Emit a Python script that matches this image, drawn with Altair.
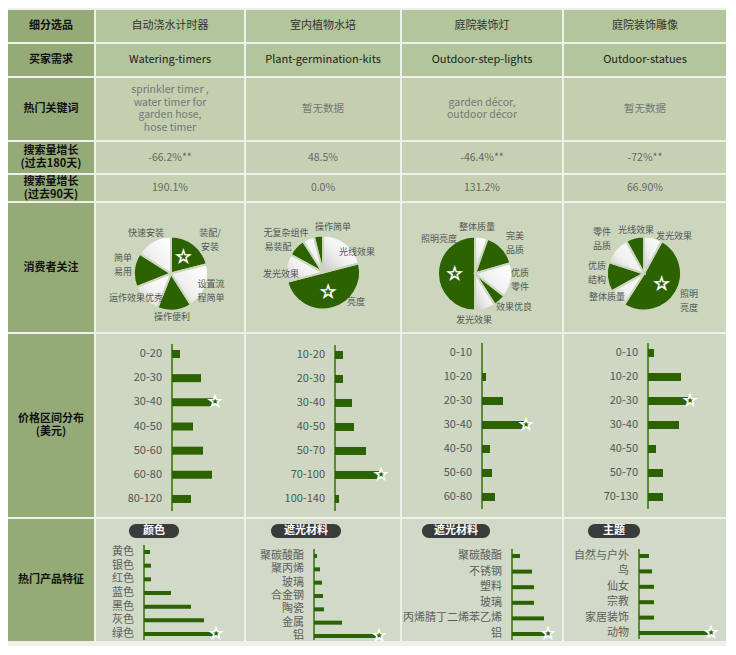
import math
import altair as alt
import pandas as pd

FONT = "Noto Sans CJK SC"
STAR_FONT = "DejaVu Sans"
GREEN = "#2c6300"
AXIS_GREEN = "#5b8c2c"
BG = "#eef0ea"
LABEL_FILL = "#94ab77"

# ---------------- data ----------------
row_labels = ["细分选品", "买家需求", "热门关键词", "搜索量增长\n(过去180天)",
              "搜索量增长\n(过去90天)", "消费者关注", "价格区间分布\n(美元)", "热门产品特征"]
products = ["自动浇水计时器", "室内植物水培", "庭院装饰灯", "庭院装饰雕像"]
demands = ["Watering-timers", "Plant-germination-kits", "Outdoor-step-lights", "Outdoor-statues"]
keywords = ["sprinkler timer ,\n water timer for\ngarden hose,\n  hose timer", "暂无数据",
            "garden décor,\n outdoor décor", "暂无数据"]
growth_180 = ["-66.2%**", "48.5%", "-46.4%**", "-72%**"]
growth_90 = ["190.1%", "0.0%", "131.2%", "66.90%"]

pie_labels = [
    ["装配/\n安装", "设置流\n程简单", "操作便利", "运作效果优秀", "简单\n易用", "快速安装"],
    ["光线效果", "亮度", "发光效果", "易装配", "无复杂组件", "操作简单"],
    ["整体质量", "完美\n品质", "优质\n零件", "效果优良", "发光效果", "照明亮度"],
    ["发光效果", "照明\n亮度", "整体质量", "优质\n结构", "零件\n品质", "光线效果"],
]
pie_shares = [
    [21, 20, 15, 13, 15, 16],
    [21, 50, 12, 8, 5, 4],
    [5.5, 15, 15, 5.5, 9, 50],
    [8, 51, 8, 13, 12, 8],
]
pie_kinds = [
    ["g", "w", "g", "w", "g", "w"],
    ["w", "g", "w", "g", "w", "g"],
    ["w", "g", "w", "g", "w", "g"],
    ["w", "g", "w", "g", "w", "g"],
]

price_bins = [
    ["0-20", "20-30", "30-40", "40-50", "50-60", "60-80", "80-120"],
    ["10-20", "20-30", "30-40", "40-50", "50-70", "70-100", "100-140"],
    ["0-10", "10-20", "20-30", "30-40", "40-50", "50-60", "60-80"],
    ["0-10", "10-20", "20-30", "30-40", "40-50", "50-70", "70-130"],
]
price_values = [
    [8, 29, 41, 21, 31, 40, 19],
    [8, 8, 17, 19, 31, 44, 4],
    [0, 4, 21, 42, 8, 10, 13],
    [6, 33, 40, 31, 8, 15, 15],
]

feature_titles = ["颜色", "遮光材料", "遮光材料", "主题"]
feature_cats = [
    ["黄色", "银色", "红色", "蓝色", "黑色", "灰色", "绿色"],
    ["聚碳酸酯", "聚丙烯", "玻璃", "合金钢", "陶瓷", "金属", "铝"],
    ["聚碳酸酯", "不锈钢", "塑料", "玻璃", "丙烯腈丁二烯苯乙烯", "铝"],
    ["自然与户外", "鸟", "仙女", "宗教", "家居装饰", "动物"],
]
feature_values = [
    [6, 7, 7, 27, 47, 60, 70],
    [3, 6, 8, 9, 10, 28, 63],
    [8, 20, 22, 22, 32, 34],
    [10, 13, 15, 15, 15, 70],
]

# ---------------- layout / style ----------------
col_widths = [86, 148, 154, 160, 162]
row_heights = [32, 32, 62, 31, 26, 129, 183, 122]
row_fills = ["#b3c59b", "#b3c59b", "#c3cfaf", "#c6d1b4", "#c6d1b4", "#cbd6bd", "#cdd7c1", "#d1dac8"]

price_axis_x = [76, 89, 80, 84]
price_y = [(20, 165), (21, 165), (19, 163), (19, 163)]
feature_axis_x = [48, 68, 110, 75]
feature_y = [(33, 115), (37, 117), (37, 115), (37, 114)]
pill_cx = [58, 60, 54, 50]
pill_w = [50, 70, 68, 52]
PIE_R = 37
PIE_LH = 14
pie_center_shift = [(1, 6), (0, 5), (-7, 6), (-1, 6)]
# label placement (pixel offset of each label block's centre from its pie centre)
pie_label_offsets = [
    [(39, -34), (40, 17), (1, 43), (-35, 24), (-48, -9), (-25, -41)],
    [(34, -21), (33, 29), (-42, 1), (-45, -26), (-37, -40), (10, -46)],
    [(2, -47), (40, -31), (45, 6), (39, 33), (-1, 46), (-36, -35)],
    [(30, -38), (45, 27), (-37, 23), (-47, -1), (-42, -35), (-8, -44)],
]


def view(fill):
    return alt.ViewBackground(fill=fill, strokeWidth=0)


def text_cell(text, w, h, fill, size=11, color="#333", weight="normal", lh=13):
    n = len(text.split("\n"))
    df = pd.DataFrame({"t": [text]})
    return alt.Chart(df).mark_text(
        font=FONT, fontSize=size, color=color, fontWeight=weight,
        lineBreak="\n", lineHeight=lh, align="center", baseline="middle"
    ).encode(
        x=alt.value(w / 2), y=alt.value(h / 2 - (n - 1) * lh / 2), text="t:N"
    ).properties(width=w, height=h, view=view(fill))


def pie_cell(labels, shares, kinds, offsets, shift, w, h, fill):
    rows = []
    cum = 0.0
    total = float(sum(shares))
    mx = max(shares)
    for lab, s, k, (dx, dy) in zip(labels, shares, kinds, offsets):
        st = cum / total * 100
        en = (cum + s) / total * 100
        n = len(lab.split("\n"))
        dy1 = dy - (n - 1) * PIE_LH / 2  # first-line anchor of the label block
        ldeg = math.degrees(math.atan2(dx, -dy1)) % 360
        rows.append({"label": lab, "start": st, "end": en, "mid": (st + en) / 2, "kind": k,
                     "lt": ldeg / 360 * 100, "lr": math.hypot(dx, dy1),
                     "sr": PIE_R * 0.55, "star": "★" if s == mx else ""})
        cum += s
    df = pd.DataFrame(rows)
    base = alt.Chart(df)
    tscale = alt.Scale(domain=[0, 100])
    rscale = alt.Scale(domain=[0, 100], range=[0, 100], nice=False, zero=True)
    cx = alt.value(w / 2 + shift[0])
    cy = alt.value(h / 2 + shift[1])

    green = base.transform_filter("datum.kind == 'g'").mark_arc(
        outerRadius=PIE_R, stroke=fill, strokeWidth=2, color=GREEN
    ).encode(theta=alt.Theta("start:Q", scale=tscale), theta2="end:Q", x=cx, y=cy)
    white = base.transform_filter("datum.kind == 'w'").mark_arc(
        outerRadius=PIE_R, stroke=fill, strokeWidth=2,
        color={"gradient": "linear", "x1": 1, "y1": 0, "x2": 0, "y2": 1,
               "stops": [{"offset": 0, "color": "#ffffff"},
                         {"offset": 0.55, "color": "#f1f1f1"},
                         {"offset": 1, "color": "#c9c9c9"}]}
    ).encode(theta=alt.Theta("start:Q", scale=tscale), theta2="end:Q", x=cx, y=cy)
    text = base.mark_text(
        font=FONT, fontSize=9, color="#555", lineBreak="\n", lineHeight=PIE_LH,
        align="center", baseline="middle"
    ).encode(theta=alt.Theta("lt:Q", scale=tscale),
             radius=alt.Radius("lr:Q", scale=rscale), text="label:N", x=cx, y=cy)
    star = base.mark_text(
        font=STAR_FONT, fontSize=22, color="white", baseline="middle"
    ).encode(theta=alt.Theta("mid:Q", scale=tscale),
             radius=alt.Radius("sr:Q", scale=rscale), text="star:N", x=cx, y=cy)
    star2 = base.mark_text(
        font=STAR_FONT, fontSize=10, color=GREEN, baseline="middle"
    ).encode(theta=alt.Theta("mid:Q", scale=tscale),
             radius=alt.Radius("sr:Q", scale=rscale), text="star:N", x=cx, y=cy)
    return alt.layer(green, white, text, star, star2).properties(
        width=w, height=h, view=view(fill))


def bar_cell(cats, vals, w, h, fill, ax, yr, bar_size, label_size, label_color,
             title=None, pcx=None, pw=None, ext=(10, 12)):
    mx = max(vals)
    df = pd.DataFrame({"cat": cats, "val": vals})
    df["lx"] = -10
    df["zero"] = 0
    df["star"] = ["★" if v == mx else "" for v in vals]
    xs = alt.Scale(domain=[-ax, w - ax], nice=False, zero=False)
    ys = alt.Scale(type="point", range=list(yr), padding=0)
    Y = alt.Y("cat:N", sort=cats, scale=ys, axis=None)
    base = alt.Chart(df)
    bars = base.mark_bar(size=bar_size, color=GREEN).encode(
        x=alt.X("zero:Q", scale=xs, axis=None), x2="val:Q", y=Y)
    labels = base.mark_text(
        font=FONT, fontSize=label_size, color=label_color, align="right", baseline="middle"
    ).encode(x=alt.X("lx:Q", scale=xs, axis=None), y=Y, text="cat:N")
    line_df = pd.DataFrame({"v": [0]})
    rule = alt.Chart(line_df).mark_rule(color=AXIS_GREEN, strokeWidth=2).encode(
        x=alt.X("v:Q", scale=xs, axis=None),
        y=alt.value(yr[0] - ext[0]), y2=alt.value(min(h - 1, yr[1] + ext[1])))
    star = base.mark_text(
        font=STAR_FONT, fontSize=20, color="white", baseline="middle", dx=2
    ).encode(x=alt.X("val:Q", scale=xs, axis=None), y=Y, text="star:N")
    star2 = base.mark_text(
        font=STAR_FONT, fontSize=8, color=GREEN, baseline="middle", dx=2
    ).encode(x=alt.X("val:Q", scale=xs, axis=None), y=Y, text="star:N")
    layers = [rule, bars, labels, star, star2]
    if title is not None:
        tdf = pd.DataFrame({"t": [title]})
        pill = alt.Chart(tdf).mark_rect(color="#3b3b3b", cornerRadius=7).encode(
            x=alt.value(pcx - pw / 2), x2=alt.value(pcx + pw / 2),
            y=alt.value(5), y2=alt.value(19))
        ptxt = alt.Chart(tdf).mark_text(
            font=FONT, fontSize=11, fontWeight="bold", color="white",
            align="center", baseline="middle"
        ).encode(x=alt.value(pcx), y=alt.value(12), text="t:N")
        layers += [pill, ptxt]
    return alt.layer(*layers).properties(width=w, height=h, view=view(fill))


# ---------------- build grid ----------------
cells = []
for ri, lab in enumerate(row_labels):
    h = row_heights[ri]
    cells.append(text_cell(lab, col_widths[0], h, LABEL_FILL, size=11, color="#111",
                           weight="bold", lh=13))
    for ci in range(4):
        w = col_widths[ci + 1]
        f = row_fills[ri]
        if ri == 0:
            c = text_cell(products[ci], w, h, f, size=11, color="#333")
        elif ri == 1:
            c = text_cell(demands[ci], w, h, f, size=11, color="#222")
        elif ri == 2:
            c = text_cell(keywords[ci], w, h, f, size=10.5, color="#777", lh=12.7)
        elif ri == 3:
            c = text_cell(growth_180[ci], w, h, f, size=10.5, color="#666")
        elif ri == 4:
            c = text_cell(growth_90[ci], w, h, f, size=10.5, color="#666")
        elif ri == 5:
            c = pie_cell(pie_labels[ci], pie_shares[ci], pie_kinds[ci],
                         pie_label_offsets[ci], pie_center_shift[ci], w, h, f)
        elif ri == 6:
            c = bar_cell(price_bins[ci], price_values[ci], w, h, f, price_axis_x[ci],
                         price_y[ci], 8, 11, "#555", ext=(10, 12))
        else:
            c = bar_cell(feature_cats[ci], feature_values[ci], w, h, f, feature_axis_x[ci],
                         feature_y[ci], 4, 11, "#5e5e5e", title=feature_titles[ci],
                         pcx=pill_cx[ci], pw=pill_w[ci], ext=(7, 6))
        cells.append(c)

chart = alt.concat(*cells, columns=5, spacing=2, bounds="flush", align="each").properties(
    padding={"left": 0, "top": 2, "right": 0, "bottom": 0},
    background=BG,
).configure_view(strokeWidth=0)

chart.save("out.html", embed_options={"renderer": "svg", "actions": False})
